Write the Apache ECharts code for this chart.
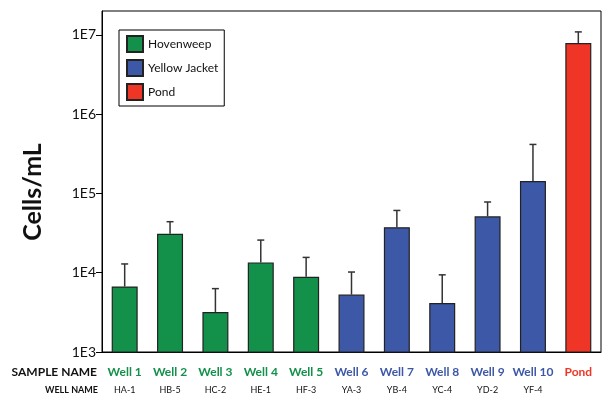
<!DOCTYPE html>
<html>
<head>
<meta charset="utf-8">
<script src="https://cdn.jsdelivr.net/npm/echarts@6/dist/echarts.min.js"></script>
<style>
html,body{margin:0;padding:0;background:#fff;}
#chart{width:603px;height:398px;}
</style>
</head>
<body>
<div id="chart"></div>
<script>
// ---- data ----
const sampleNames = ['Well 1','Well 2','Well 3','Well 4','Well 5','Well 6','Well 7','Well 8','Well 9','Well 10','Pond'];
const wellNames   = ['HA-1','HB-5','HC-2','HE-1','HF-3','YA-3','YB-4','YC-4','YD-2','YF-4',''];
const groups      = ['H','H','H','H','H','Y','Y','Y','Y','Y','P'];
const cellCounts  = [6700, 31000, 3200, 13500, 8900, 5300, 37500, 4150, 51500, 143000, 7900000];
const errorTops   = [12900, 44000, 6300, 25800, 15600, 10200, 61000, 9400, 78000, 415000, 10900000];
const yTicks      = [1e3, 1e4, 1e5, 1e6, 1e7];
const seriesNames = {H:'Hovenweep', Y:'Yellow Jacket', P:'Pond'};
const colors      = {H:'#13904a', Y:'#3d58a6', P:'#ef3526'};

const FONT = 'Lato, "Open Sans", sans-serif';

function seriesData(g){
  return cellCounts.map((v,i)=> groups[i]===g ? v : '-');
}

const barSeries = ['H','Y','P'].map(g => ({
  name: seriesNames[g],
  type: 'bar',
  data: seriesData(g),
  barWidth: 26,
  barGap: '-100%',
  itemStyle: {color: colors[g], borderColor: '#222', borderWidth: 1.2},
  emphasis: {disabled: true},
  z: 2
}));

const errData = cellCounts.map((v,i)=>[i, v, errorTops[i]]);

const chart = echarts.init(document.getElementById('chart'), null, {renderer:'canvas'});
chart.setOption({
  animation: false,
  backgroundColor: '#fff',
  textStyle: {fontFamily: FONT},
  grid: {left: 102, right: 2, top: 11, bottom: 46, show: true, borderColor: '#000', borderWidth: 1, backgroundColor: 'transparent'},
  legend: {
    orient: 'vertical',
    left: 119, top: 30,
    padding: [5, 6, 5, 7],
    itemWidth: 16, itemHeight: 16, itemGap: 6,
    borderColor: '#000', borderWidth: 1,
    backgroundColor: '#fff',
    icon: 'rect',
    textStyle: {fontFamily: FONT, fontSize: 12, color: '#111', padding: [0,0,0,0]},
    data: ['Hovenweep','Yellow Jacket','Pond']
  },
  xAxis: {
    type: 'category',
    data: sampleNames,
    axisLine: {lineStyle: {color: '#000', width: 1}},
    axisTick: {length: 5, lineStyle: {color: '#000'}},
    axisLabel: {
      margin: 11,
      interval: 0,
      formatter: function(v, i){
        const g = groups[i].toLowerCase();
        return '{' + g + '|' + v + '}\n{w|' + (wellNames[i] || ' ') + '}';
      },
      rich: {
        h: {color: colors.H, fontSize: 12, fontWeight: 'bold', lineHeight: 18, fontFamily: FONT},
        y: {color: colors.Y, fontSize: 12, fontWeight: 'bold', lineHeight: 18, fontFamily: FONT},
        p: {color: colors.P, fontSize: 12, fontWeight: 'bold', lineHeight: 18, fontFamily: FONT},
        w: {color: '#111', fontSize: 9, lineHeight: 18, fontFamily: FONT}
      }
    },
    splitLine: {show: false}
  },
  yAxis: {
    type: 'log',
    logBase: 10,
    min: 1000,
    max: 20000000,
    axisLine: {show: true, lineStyle: {color: '#000', width: 1}},
    axisTick: {show: true, length: 6, lineStyle: {color: '#000'}, customValues: yTicks},
    axisLabel: {
      customValues: yTicks,
      margin: 6,
      fontSize: 14,
      color: '#111',
      fontFamily: FONT,
      formatter: function(v){ return '1E' + Math.round(Math.log10(v)); }
    },
    splitLine: {show: false}
  },
  graphic: [
    {type: 'text', x: 33, y: 192, rotation: Math.PI/2,
     style: {text: 'Cells/mL', fontSize: 25, fontWeight: 'bold', fontFamily: FONT, fill: '#111', align: 'center', verticalAlign: 'middle'}},
    {type: 'text', x: 97, y: 372,
     style: {text: 'SAMPLE NAME', fontSize: 12, fontWeight: 'bold', fontFamily: FONT, fill: '#111', align: 'right', verticalAlign: 'middle'}},
    {type: 'text', x: 98, y: 390,
     style: {text: 'WELL NAME', fontSize: 9, fontWeight: 'bold', fontFamily: FONT, fill: '#111', align: 'right', verticalAlign: 'middle'}}
  ],
  series: barSeries.concat([{
    type: 'custom',
    name: 'err',
    data: errData,
    z: 1,
    renderItem: function(params, api){
      const x = api.value(0);
      const p0 = api.coord([x, api.value(1)]);
      const p1 = api.coord([x, api.value(2)]);
      const style = {stroke: '#333', lineWidth: 1.5};
      return {type: 'group', children: [
        {type: 'line', shape: {x1: p0[0], y1: p0[1], x2: p1[0], y2: p1[1]}, style: style},
        {type: 'line', shape: {x1: p1[0]-3.5, y1: p1[1], x2: p1[0]+3.5, y2: p1[1]}, style: style}
      ]};
    }
  }])
});
</script>
</body>
</html>
